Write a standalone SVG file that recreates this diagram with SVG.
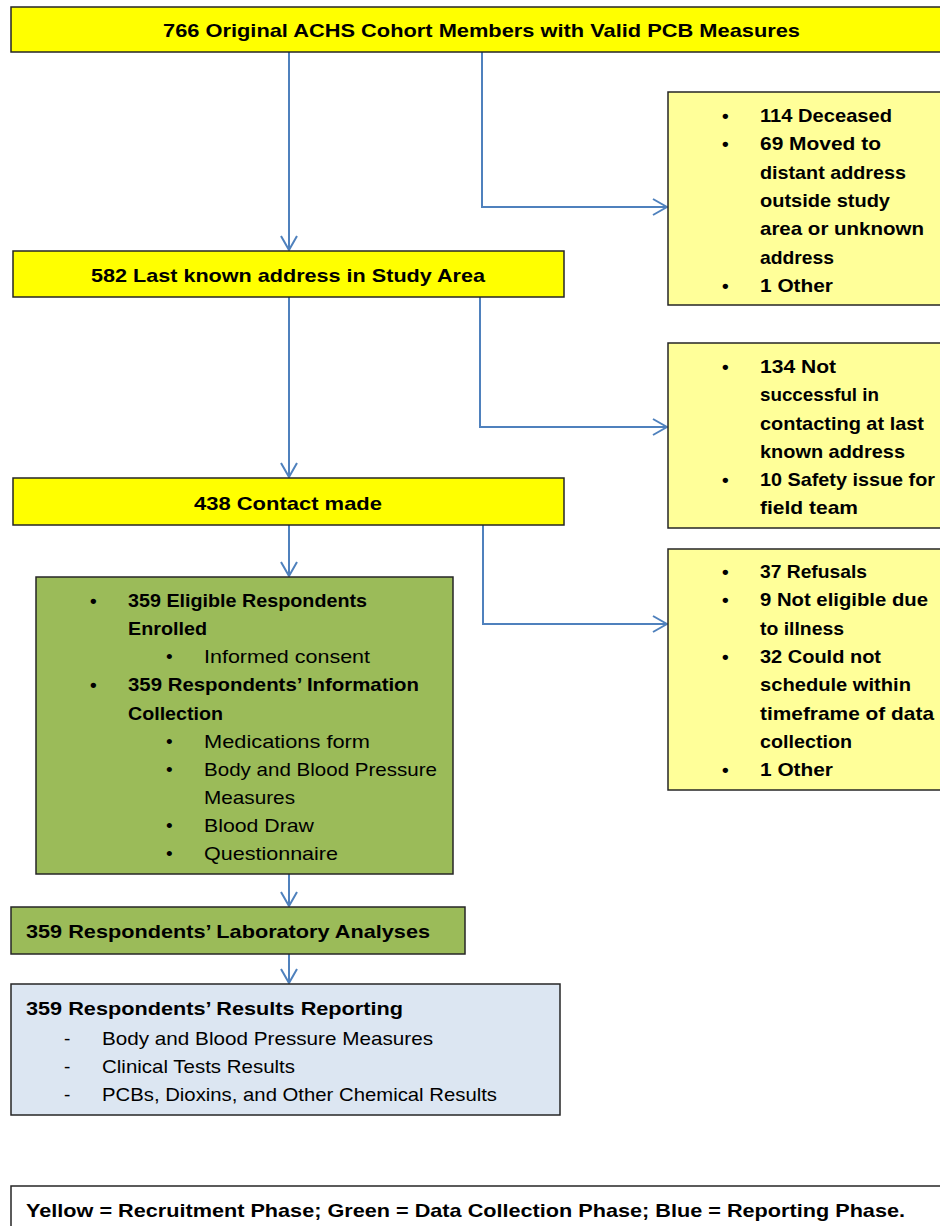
<svg xmlns="http://www.w3.org/2000/svg" width="940" height="1226" viewBox="0 0 940 1226">
<style>
.box{stroke:#262626;stroke-width:1.5}
.y{fill:#ffff00}
.ly{fill:#ffff99}
.g{fill:#9bbb59}
.b{fill:#dce6f2}
.w{fill:#ffffff}
text{font-family:"Liberation Sans",Arial,sans-serif;font-size:19px;fill:#000}
.bd{font-weight:bold}
.con{fill:none;stroke:#4f81bd;stroke-width:2}
</style>
<defs>
<marker id="arr" markerUnits="userSpaceOnUse" viewBox="0 0 16 18" refX="15" refY="9" markerWidth="16" markerHeight="18" orient="auto">
<path d="M1,1 L15,9 L1,17" fill="none" stroke="#4f81bd" stroke-width="2"/>
</marker>
</defs>
<rect width="940" height="1226" fill="#ffffff"/>
<g id="connectors">
<path class="con" d="M289,52 V250" marker-end="url(#arr)"/>
<path class="con" d="M482,52 V207 H667" marker-end="url(#arr)"/>
<path class="con" d="M289,297 V477" marker-end="url(#arr)"/>
<path class="con" d="M480,297 V427 H667" marker-end="url(#arr)"/>
<path class="con" d="M289,525 V576" marker-end="url(#arr)"/>
<path class="con" d="M483,525 V624 H667" marker-end="url(#arr)"/>
<path class="con" d="M289,874 V906" marker-end="url(#arr)"/>
<path class="con" d="M289,954 V983" marker-end="url(#arr)"/>
</g>
<g id="n766">
<rect class="box y" x="11" y="7" width="935" height="45"/>
<text class="bd" x="163" y="37" textLength="637" lengthAdjust="spacingAndGlyphs">766 Original ACHS Cohort Members with Valid PCB Measures</text>
</g>
<g id="n582">
<rect class="box y" x="13" y="251" width="551" height="46"/>
<text class="bd" x="91" y="282" textLength="394" lengthAdjust="spacingAndGlyphs">582 Last known address in Study Area</text>
</g>
<g id="excl1">
<rect class="box ly" x="668" y="92" width="280" height="213"/>
<text class="bd" x="722" y="122">•</text>
<text class="bd" x="760" y="122" textLength="132" lengthAdjust="spacingAndGlyphs">114 Deceased</text>
<text class="bd" x="722" y="150">•</text>
<text class="bd" x="760" y="150" textLength="121" lengthAdjust="spacingAndGlyphs">69 Moved to</text>
<text class="bd" x="760" y="179" textLength="146" lengthAdjust="spacingAndGlyphs">distant address</text>
<text class="bd" x="760" y="207" textLength="130" lengthAdjust="spacingAndGlyphs">outside study</text>
<text class="bd" x="760" y="235" textLength="164" lengthAdjust="spacingAndGlyphs">area or unknown</text>
<text class="bd" x="760" y="264" textLength="74" lengthAdjust="spacingAndGlyphs">address</text>
<text class="bd" x="722" y="292">•</text>
<text class="bd" x="760" y="292" textLength="73" lengthAdjust="spacingAndGlyphs">1 Other</text>
</g>
<g id="excl2">
<rect class="box ly" x="668" y="343" width="280" height="185"/>
<text class="bd" x="722" y="373">•</text>
<text class="bd" x="760" y="373" textLength="76" lengthAdjust="spacingAndGlyphs">134 Not</text>
<text class="bd" x="760" y="401" textLength="119" lengthAdjust="spacingAndGlyphs">successful in</text>
<text class="bd" x="760" y="430" textLength="164" lengthAdjust="spacingAndGlyphs">contacting at last</text>
<text class="bd" x="760" y="458" textLength="145" lengthAdjust="spacingAndGlyphs">known address</text>
<text class="bd" x="722" y="486">•</text>
<text class="bd" x="760" y="486" textLength="175" lengthAdjust="spacingAndGlyphs">10 Safety issue for</text>
<text class="bd" x="760" y="514" textLength="98" lengthAdjust="spacingAndGlyphs">field team</text>
</g>
<g id="n438">
<rect class="box y" x="13" y="478" width="551" height="47"/>
<text class="bd" x="194" y="510" textLength="188" lengthAdjust="spacingAndGlyphs">438 Contact made</text>
</g>
<g id="excl3">
<rect class="box ly" x="668" y="549" width="280" height="241"/>
<text class="bd" x="722" y="578">•</text>
<text class="bd" x="760" y="578" textLength="107" lengthAdjust="spacingAndGlyphs">37 Refusals</text>
<text class="bd" x="722" y="606">•</text>
<text class="bd" x="760" y="606" textLength="168" lengthAdjust="spacingAndGlyphs">9 Not eligible due</text>
<text class="bd" x="760" y="635" textLength="84" lengthAdjust="spacingAndGlyphs">to illness</text>
<text class="bd" x="722" y="663">•</text>
<text class="bd" x="760" y="663" textLength="121" lengthAdjust="spacingAndGlyphs">32 Could not</text>
<text class="bd" x="760" y="691" textLength="151" lengthAdjust="spacingAndGlyphs">schedule within</text>
<text class="bd" x="760" y="720" textLength="174" lengthAdjust="spacingAndGlyphs">timeframe of data</text>
<text class="bd" x="760" y="748" textLength="92" lengthAdjust="spacingAndGlyphs">collection</text>
<text class="bd" x="722" y="776">•</text>
<text class="bd" x="760" y="776" textLength="73" lengthAdjust="spacingAndGlyphs">1 Other</text>
</g>
<g id="enrolled">
<rect class="box g" x="36" y="577" width="417" height="297"/>
<text class="bd" x="90" y="607">•</text>
<text class="bd" x="128" y="607" textLength="239" lengthAdjust="spacingAndGlyphs">359 Eligible Respondents</text>
<text class="bd" x="128" y="635" textLength="79" lengthAdjust="spacingAndGlyphs">Enrolled</text>
<text x="166" y="663">•</text>
<text x="204" y="663" textLength="166" lengthAdjust="spacingAndGlyphs">Informed consent</text>
<text class="bd" x="90" y="691">•</text>
<text class="bd" x="128" y="691" textLength="291" lengthAdjust="spacingAndGlyphs">359 Respondents’ Information</text>
<text class="bd" x="128" y="720" textLength="95" lengthAdjust="spacingAndGlyphs">Collection</text>
<text x="166" y="748">•</text>
<text x="204" y="748" textLength="166" lengthAdjust="spacingAndGlyphs">Medications form</text>
<text x="166" y="776">•</text>
<text x="204" y="776" textLength="233" lengthAdjust="spacingAndGlyphs">Body and Blood Pressure</text>
<text x="204" y="804" textLength="91" lengthAdjust="spacingAndGlyphs">Measures</text>
<text x="166" y="832">•</text>
<text x="204" y="832" textLength="110" lengthAdjust="spacingAndGlyphs">Blood Draw</text>
<text x="166" y="860">•</text>
<text x="204" y="860" textLength="134" lengthAdjust="spacingAndGlyphs">Questionnaire</text>
</g>
<g id="lab">
<rect class="box g" x="11" y="907" width="454" height="47"/>
<text class="bd" x="26" y="938" textLength="404" lengthAdjust="spacingAndGlyphs">359 Respondents’ Laboratory Analyses</text>
</g>
<g id="report">
<rect class="box b" x="11" y="984" width="549" height="131"/>
<text class="bd" x="26" y="1015" textLength="377" lengthAdjust="spacingAndGlyphs">359 Respondents’ Results Reporting</text>
<text x="64" y="1045">-</text>
<text x="102" y="1045" textLength="331" lengthAdjust="spacingAndGlyphs">Body and Blood Pressure Measures</text>
<text x="64" y="1073">-</text>
<text x="102" y="1073" textLength="193" lengthAdjust="spacingAndGlyphs">Clinical Tests Results</text>
<text x="64" y="1101">-</text>
<text x="102" y="1101" textLength="395" lengthAdjust="spacingAndGlyphs">PCBs, Dioxins, and Other Chemical Results</text>
</g>
<g id="legend">
<rect class="box w" x="11" y="1186" width="935" height="60"/>
<text class="bd" x="26" y="1217" textLength="879" lengthAdjust="spacingAndGlyphs">Yellow = Recruitment Phase; Green = Data Collection Phase; Blue = Reporting Phase.</text>
</g>
</svg>
